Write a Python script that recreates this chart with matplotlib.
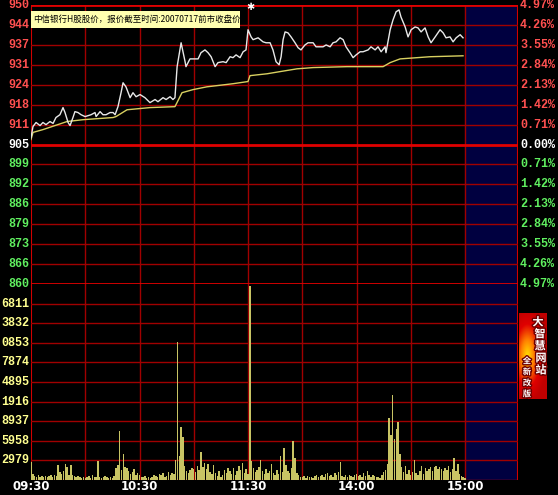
import numpy as np
import matplotlib.pyplot as plt
import matplotlib.patheffects as pe
from matplotlib.patches import Rectangle
from matplotlib.colors import LinearSegmentedColormap
from matplotlib.transforms import blended_transform_factory

W, H = 558, 495

# minutes after 09:30 (240 trading minutes), price
price_t = [0, 1.1, 2.8, 5, 6.6, 8.3, 10.5, 12.2, 13.8, 16, 17.7, 18.8, 20.5, 21.6,
           23.2, 24.3, 26, 27.7, 29.9, 31.5, 33.2, 35.4, 36, 38.2, 39.8, 41.5, 43.7,
           45.4, 46.5, 48.1, 49.8, 50.9, 52.5, 54.8, 56.4, 58.1, 60.3, 63, 65.8, 68.6,
           70.2, 73, 74.7, 76.9, 78.5, 79.6, 80.8, 83, 85.2, 85.7, 87.9, 92.4, 94,
           96.2, 97.9, 99.6, 101.8, 103.4, 106.2, 107.9, 110.1, 111.7, 113.4, 115.6,
           117.3, 118.9, 120, 121.7, 122.8, 125.6, 128.3, 130, 132.2, 133.8, 135.5,
           137.2, 138.3, 139.4, 140.5, 142.1, 143.8, 146, 147.7, 149.3, 151.5, 153.2,
           156, 157.6, 161.5, 163.2, 165.4, 167, 168.7, 170.9, 172.6, 174.2, 176.4,
           178.1, 179.8, 182, 183.6, 186.4, 188, 190.3, 191.9, 193.6, 195.8, 196.3,
           198.6, 200.2, 201.9, 203.5, 204.6, 206.9, 208.5, 210.2, 212.4, 214, 215.7,
           217.9, 219.6, 221.2, 223.5, 226.2, 227.9, 229.5, 231.7, 233.4, 235.1,
           237.3, 238.9]
price = [907.2, 910.8, 912.1, 911.1, 912.1, 911.4, 912.4, 911.8, 913.7, 914.6, 916.9,
         915.3, 912.1, 911.1, 913.7, 915.6, 915.3, 914.6, 914.0, 914.3, 914.6, 915.3,
         914.0, 915.6, 914.6, 914.6, 915.3, 915.3, 914.6, 917.2, 921.7, 924.9, 923.6,
         920.1, 921.7, 920.4, 921.1, 920.1, 918.5, 919.5, 918.8, 920.1, 919.5, 920.4,
         919.5, 920.1, 930.1, 937.8, 931.7, 930.1, 932.6, 932.6, 934.6, 935.5, 934.6,
         933.3, 930.1, 931.4, 931.7, 931.4, 933.3, 933.0, 933.9, 933.0, 934.9, 935.5,
         942.0, 939.7, 938.8, 939.4, 938.1, 937.8, 937.8, 935.5, 931.7, 930.7, 933.3,
         938.8, 941.3, 941.0, 939.7, 937.8, 936.2, 935.5, 937.1, 937.8, 937.8, 936.5,
         936.5, 937.1, 936.5, 937.8, 938.1, 939.4, 938.8, 936.5, 934.6, 933.0, 933.9,
         934.9, 934.9, 935.5, 936.5, 935.5, 936.5, 934.9, 936.5, 934.6, 942.0, 945.2,
         947.8, 948.4, 946.1, 942.9, 939.7, 942.0, 942.9, 942.6, 941.3, 942.6, 939.7,
         937.8, 939.7, 942.0, 941.0, 939.4, 939.7, 938.1, 939.4, 940.4, 939.4]

avg_t = [0, 1.1, 6.6, 19.9, 28.8, 45.4, 47, 53.1, 65.8, 79.6, 83.5, 89.6, 97.3,
         111.7, 120, 121.1, 130.5, 137.7, 147.1, 156, 174.8, 194.7, 198.6, 204.1,
         220.7, 238.9]
avg = [906.6, 908.9, 909.8, 912.4, 913.0, 913.7, 914.0, 916.2, 916.9, 917.2, 921.7,
       922.7, 923.6, 924.6, 925.3, 927.2, 927.8, 928.5, 929.4, 929.8, 930.1, 930.1,
       931.4, 932.6, 933.3, 933.6]

# one bar per minute
volume = [2780, 900, 600, 500, 700, 450, 600, 500, 650, 400,
          550, 700, 450, 800, 600, 2280, 1200, 900, 1300, 2400,
          1950, 800, 2250, 700, 600, 500, 650, 450, 300, 500,
          350, 400, 600, 300, 700, 500, 450, 2900, 400, 350,
          500, 600, 450, 300, 400, 350, 600, 1800, 2300, 7500,
          1500, 3950, 2000, 1800, 1300, 900, 1200, 1600, 800, 1100,
          700, 500, 400, 600, 300, 450, 350, 500, 800, 600,
          400, 900, 700, 1000, 500, 600, 1200, 800, 1100, 900,
          3000, 20900, 3600, 8100, 6600, 2200, 1400, 1000, 1500, 1800,
          1600, 1200, 2100, 1500, 4200, 2000, 2600, 1700, 2400, 1200,
          900, 2300, 1000, 600, 1300, 500, 800, 1500, 1100, 1800,
          1400, 900, 1800, 700, 1300, 2200, 1500, 2600, 1100, 1700,
          900, 29500, 2900, 1800, 1200, 1500, 2000, 3000, 1300, 900,
          1700, 1000, 1400, 2500, 1100, 700, 1500, 900, 3700, 1200,
          4800, 2300, 1300, 1000, 1800, 5900, 3300, 1000, 700, 500,
          400, 550, 300, 600, 400, 500, 350, 650, 800, 400,
          600, 700, 500, 900, 1100, 600, 800, 500, 1000, 700,
          1200, 2700, 600, 500, 700, 400, 800, 600, 500, 700,
          900, 600, 700, 450, 1000, 600, 1300, 800, 500, 700,
          600, 400, 500, 350, 800, 1200, 1500, 2500, 9400, 6800,
          12900, 6300, 7700, 8800, 4000, 1900, 1200, 2200, 900, 1500,
          700, 1200, 3100, 1000, 800, 1400, 2200, 900, 1800, 1300,
          1700, 2000, 1400, 1900, 2200, 1600, 2000, 1700, 1300, 1800,
          1500, 2100, 1200, 1600, 3300, 1400, 2500, 900, 600, 400,
          300]

prev_close = 905
pct_step = 0.0071
price_labels = ['950', '944', '937', '931', '924', '918', '911', '905',
                '899', '892', '886', '879', '873', '866', '860']
pct_labels = ['4.97%', '4.26%', '3.55%', '2.84%', '2.13%', '1.42%', '0.71%', '0.00%',
              '0.71%', '1.42%', '2.13%', '2.84%', '3.55%', '4.26%', '4.97%']
vol_step = 2979
vol_labels = ['2979', '5958', '8937', '1916', '4895', '7874', '0853', '3832', '6811']
time_ticks = [0, 60, 120, 180, 240]
time_labels = ['09:30', '10:30', '11:30', '14:00', '15:00']
title = '中信银行H股股价，报价截至时间:20070717前市收盘价'

RED, DARK = '#ff5050', '#a00000'
GREEN, WHITE, YEL = '#60f060', '#ffffff', '#ffff90'
x_end = 269.3  # blank (blue) area after 15:00

fig = plt.figure(figsize=(W / 100, H / 100), dpi=100, facecolor='black')


def box(x0, y0, x1, y1):
    return [x0 / W, 1 - y1 / H, (x1 - x0) / W, (y1 - y0) / H]


ax_p = fig.add_axes(box(31, 5, 518, 284))
ax_v = fig.add_axes(box(31, 284, 518, 480))

price_ticks = [prev_close * (1 + pct_step * k) for k in range(7, -8, -1)]
vol_ticks = [vol_step * k for k in range(1, 10)]

for ax in (ax_p, ax_v):
    ax.set_facecolor('black')
    ax.set_xlim(0, x_end)
    ax.axvspan(240, x_end, color='#000040', zorder=0)
    for t in range(30, 241, 30):
        ax.axvline(t, color=DARK, lw=1, zorder=1)
    ax.axvline(0, color='#d00000', lw=1.5, zorder=1)
    ax.axvline(x_end, color='#d00000', lw=1.5, zorder=1)
    ax.set_xticks([])
    ax.set_yticks([])
    for s in ax.spines.values():
        s.set_visible(False)

ax_p.set_ylim(price_ticks[-1], price_ticks[0])
for i, p in enumerate(price_ticks):
    bright = i in (0, 7, 14)
    ax_p.axhline(p, color='#e00000' if bright else DARK, lw=2 if bright else 1, zorder=1)

ax_p.plot(avg_t, avg, color='#d8d060', lw=1, zorder=3)
ax_p.plot(price_t, price, color='#e8e8e8', lw=1, zorder=4)

ax_v.set_ylim(0, vol_step * 10)
for v in vol_ticks:
    ax_v.axhline(v, color=DARK, lw=1, zorder=1)
ax_v.axhline(0, color='#d00000', lw=1, zorder=1)
ax_v.bar(range(len(volume)), volume, width=0.8, color='#c8c464', lw=0, zorder=3)

# axis labels
tp = blended_transform_factory(fig.transFigure, ax_p.transData)
tv = blended_transform_factory(fig.transFigure, ax_v.transData)
num_font = dict(family='Liberation Mono', fontweight='bold', fontsize=8.5)
for i, (p, lab, pl) in enumerate(zip(price_ticks, price_labels, pct_labels)):
    col = RED if i < 7 else (WHITE if i == 7 else GREEN)
    ax_p.text(29.5 / W, p, lab, transform=tp, ha='right', va='center', color=col,
              clip_on=False, **num_font)
    ax_p.text(520 / W, p, pl, transform=tp, ha='left', va='center', color=col,
              clip_on=False, **num_font)
for v, lab in zip(vol_ticks, vol_labels):
    ax_v.text(29.5 / W, v, lab, transform=tv, ha='right', va='center', color=YEL,
              clip_on=False, **num_font)

tt = blended_transform_factory(ax_v.transData, fig.transFigure)
for t, lab in zip(time_ticks, time_labels):
    ax_v.text(t, 1 - 487 / H, lab, transform=tt, ha='center', va='center',
              color=WHITE, fontsize=8.5, fontweight='bold', family='DejaVu Sans',
              clip_on=False)

# title note box
fig.patches.append(Rectangle((31 / W, 1 - 28 / H), 209 / W, 17 / H,
                             transform=fig.transFigure, facecolor='#ffffb0',
                             edgecolor='none', zorder=5))
fig.text(33 / W, 1 - 19.5 / H, title, fontsize=6.1, color='black', va='center',
         family=['Noto Sans CJK SC', 'DejaVu Sans'], zorder=6)
fig.text(250 / W, 1 - 7 / H, '✱', fontsize=7, color='white', ha='center',
         va='center', zorder=6)

# banner on the right
ax_b = fig.add_axes(box(519, 313, 547, 399))
yy, xx = np.mgrid[0:1:100j, 0:1:40j]
d = np.sqrt(((xx - 0.3) / 0.7) ** 2 + ((yy - 0.5) / 0.55) ** 2)
cmap = LinearSegmentedColormap.from_list('b', ['#ffe000', '#ff8000', '#e00000', '#c00000'])
ax_b.imshow(d, cmap=cmap, aspect='auto', vmin=0, vmax=1)
ax_b.axis('off')
stroke = [pe.withStroke(linewidth=2, foreground='#700000')]
for ch, (x, y) in zip('大智慧网站', [(538, 322), (540, 334), (540, 346), (541, 358), (541, 370)]):
    fig.text(x / W, 1 - y / H, ch, fontsize=8, color='white', ha='center', va='center',
             fontweight='bold', family=['Noto Sans CJK SC'], path_effects=stroke)
for ch, (x, y) in zip('全新改版', [(527, 361), (527, 372), (527, 383), (527, 394)]):
    fig.text(x / W, 1 - y / H, ch, fontsize=6, color='white', ha='center', va='center',
             fontweight='bold', family=['Noto Sans CJK SC'], path_effects=stroke)

fig.savefig('out.png', dpi=100, facecolor='black')
